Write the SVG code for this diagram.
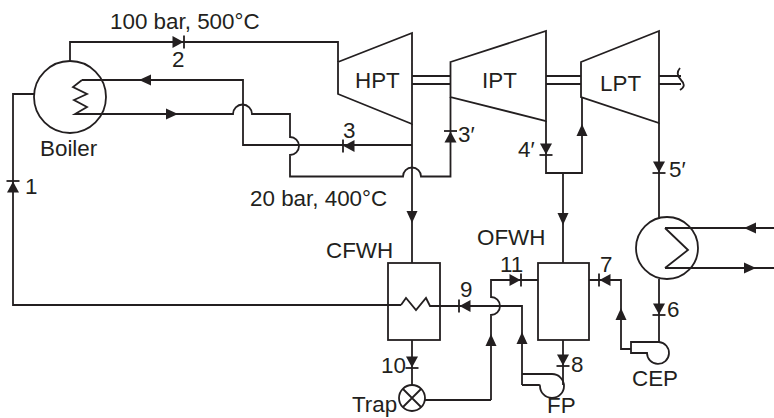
<svg xmlns="http://www.w3.org/2000/svg" width="774" height="418" viewBox="0 0 774 418">
<style>
.s{fill:none;stroke:#231f20;stroke-width:1.8;stroke-linejoin:miter}
text{font-family:"Liberation Sans",Arial,sans-serif;font-size:22.4px;fill:#231f20}
.a{fill:#231f20;stroke:none}
</style>
<defs>
<path id="ar" class="a" d="M6,0L-6,-5.500V5.500Z"/>
<g id="ck"><path class="a" d="M5.500,0L-5.500,-6V6Z"/><path class="s" d="M6,-6.500V6.500"/></g>
</defs>
<rect width="774" height="418" fill="#fff"/>
<g id="connectors">
<path class="s" d="M70,61V42H338V62"/>
<path class="s" d="M34,94H13V305H401"/>
<path class="s" d="M82,80H243V145H412"/>
<path class="s" d="M82,114H233A9.500,9.500 0 0 1 252,114H290V137A9,9 0 0 1 290,155V176.500H403A9,9 0 0 1 421,176.500H450.500V97"/>
<path class="s" d="M412,124V263"/>
<path class="s" d="M546,121V173H582V97"/>
<path class="s" d="M563,173V263"/>
<path class="s" d="M659,123V219"/>
<path class="s" d="M659,279V342"/>
<path class="s" d="M430,306H522V385"/>
<path class="s" d="M491,400V315A9,9 0 0 0 491,297V280H538"/>
<path class="s" d="M412,340V385"/>
<path class="s" d="M425,400H491"/>
<path class="s" d="M563,340V385"/>
<path class="s" d="M589,280H621V349H631"/>
<path class="s" d="M665,228H774"/>
<path class="s" d="M665,268H774"/>
<use href="#ck" transform="translate(178,42)"/>
<use href="#ar" transform="translate(145,80) rotate(180)"/>
<use href="#ar" transform="translate(172,114)"/>
<use href="#ck" transform="translate(13,187) rotate(-90)"/>
<use href="#ck" transform="translate(349,146) rotate(180)"/>
<use href="#ck" transform="translate(450.500,137) rotate(-90)"/>
<use href="#ar" transform="translate(412,217) rotate(90)"/>
<use href="#ck" transform="translate(546,149) rotate(90)"/>
<use href="#ar" transform="translate(582,130) rotate(-90)"/>
<use href="#ar" transform="translate(563,219) rotate(90)"/>
<use href="#ck" transform="translate(659,167) rotate(90)"/>
<use href="#ck" transform="translate(659,309) rotate(90)"/>
<use href="#ar" transform="translate(750,228) rotate(180)"/>
<use href="#ar" transform="translate(750,268)"/>
<use href="#ck" transform="translate(605,280) rotate(180)"/>
<use href="#ar" transform="translate(621,314) rotate(-90)"/>
<use href="#ck" transform="translate(515,280)"/>
<use href="#ck" transform="translate(465,306) rotate(180)"/>
<use href="#ar" transform="translate(491,340) rotate(-90)"/>
<use href="#ar" transform="translate(522,338) rotate(-90)"/>
<use href="#ck" transform="translate(412,362) rotate(90)"/>
<use href="#ck" transform="translate(563,360) rotate(90)"/>
</g>
<g id="boiler">
<circle class="s" cx="70" cy="97" r="36"/>
<path class="s" d="M82,80L73,87L87,94L74,100L87,107L75,114H82"/>
<text x="40" y="156">Boiler</text>
</g>
<g id="hpt">
<path class="s" d="M338,62L412,33V124L338,94Z"/>
<text x="355" y="88">HPT</text>
</g>
<g id="ipt">
<path class="s" d="M450.500,62L546,31V121L450.500,97Z"/>
<text x="482" y="88">IPT</text>
</g>
<g id="lpt">
<path class="s" d="M581,62L659,31V123L581,97Z"/>
<text x="600" y="91">LPT</text>
</g>
<g id="shafts">
<path class="s" d="M412,76H450M412,84H450M546,76H581M546,84H581M659,76H681M659,84H681M680,68Q675,74 681,80T680,90"/>
</g>
<g id="condenser">
<circle class="s" cx="667" cy="248" r="31"/>
<path class="s" d="M665,228L688,250L665,268"/>
</g>
<g id="cfwh">
<rect class="s" x="388" y="263" width="52" height="77"/>
<path class="s" d="M401,305L406,298L416,310L426,298L430,306H440"/>
<text x="326" y="258">CFWH</text>
</g>
<g id="ofwh">
<rect class="s" x="538" y="263" width="51" height="77"/>
<text x="477" y="245">OFWH</text>
</g>
<g id="trap">
<circle class="s" cx="412" cy="398" r="13"/>
<path class="s" d="M403,389L421,407M421,389L403,407"/>
<text x="352" y="412">Trap</text>
</g>
<g id="fp">
<path class="s" d="M522,374H552A12,12 0 1 1 540,386Q540,385 539,385H522"/>
<text x="547" y="413">FP</text>
</g>
<g id="cep">
<path class="s" d="M631,342H659A11,11 0 1 1 647,353H631Z"/>
<text x="632" y="386">CEP</text>
</g>
<g id="labels">
<text x="110" y="29">100 bar, 500°C</text>
<text x="172" y="67">2</text>
<text x="25" y="194">1</text>
<text x="343" y="138">3</text>
<text x="458" y="142">3′</text>
<text x="250" y="206">20 bar, 400°C</text>
<text x="518" y="157">4′</text>
<text x="669" y="177">5′</text>
<text x="500" y="272">11</text>
<text x="460" y="297">9</text>
<text x="381" y="373">10</text>
<text x="571" y="372">8</text>
<text x="600" y="272">7</text>
<text x="667" y="317">6</text>
</g>
</svg>
